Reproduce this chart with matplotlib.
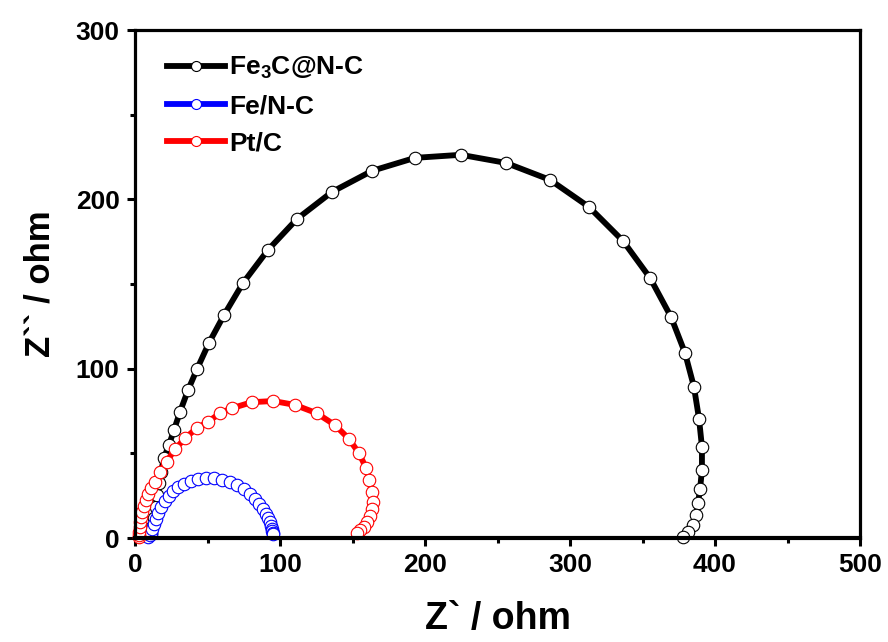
import matplotlib
matplotlib.use("Agg")
import matplotlib.pyplot as plt
from matplotlib.ticker import MultipleLocator

plt.rcParams['font.family'] = ['Liberation Sans', 'DejaVu Sans']
plt.rcParams['font.weight'] = 'bold'
plt.rcParams['mathtext.fontset'] = 'custom'
plt.rcParams['mathtext.rm'] = 'Liberation Sans:bold'
plt.rcParams['mathtext.bf'] = 'Liberation Sans:bold'
plt.rcParams['mathtext.default'] = 'rm'

# Fe3C@N-C
fe3c_x = [10.8, 11.8, 13.0, 14.3, 15.5, 16.6, 17.9, 20.0, 23.4, 26.9, 31.0, 36.6, 42.8, 51.0, 61.4,
          74.5, 91.7, 111.7, 135.9, 163.4, 193.1, 224.8, 255.9, 286.2, 313.1, 336.6,
          355.2, 369.7, 379.3, 385.5, 389.0, 391.0, 391.0, 389.7, 388.3, 386.9, 384.8, 381.4, 377.9]
fe3c_y = [2.5, 6.5, 12.0, 18.5, 25.5, 32.5, 39.0, 47.3, 54.9, 63.8, 74.4, 87.4, 99.8, 115.2, 131.7,
          150.6, 170.1, 188.4, 204.4, 216.8, 224.5, 226.3, 221.5, 211.5, 195.5, 175.4,
          153.6, 130.5, 109.3, 89.2, 70.3, 53.8, 40.2, 28.9, 20.7, 13.6, 7.7, 3.5, 0.6]

# Fe/N-C
fen_x = [9.0, 10.0, 11.0, 12.0, 13.2, 14.6, 16.2, 18.2, 20.5, 23.2, 26.3, 29.8, 33.8, 38.5, 43.7,
         49.2, 54.8, 60.3, 65.6, 70.5, 75.0, 79.0, 82.5, 85.5, 88.0, 90.0, 91.6, 92.8, 93.7,
         94.3, 94.7, 94.9, 95.0]
fen_y = [0.5, 1.5, 3.0, 5.2, 8.0, 11.2, 14.8, 18.2, 21.6, 24.7, 27.5, 29.9, 31.9, 33.6, 34.8,
         35.3, 35.2, 34.4, 33.0, 31.1, 28.7, 26.0, 23.0, 20.0, 17.0, 14.2, 11.6, 9.3, 7.3,
         5.6, 4.2, 3.1, 2.3]

# Pt/C
pt_x = [2.5, 2.6, 2.8, 3.2, 3.7, 4.1, 5.0, 6.2, 7.6, 9.2, 11.0, 13.8, 17.2, 21.8, 27.6, 34.5,
        42.5, 50.5, 58.6, 66.7, 80.5, 95.4, 110.3, 125.3, 137.9, 147.6, 154.5, 159.3, 161.6,
        163.2, 163.9, 163.2, 162.1, 160.2, 157.9, 155.2, 152.9]
pt_y = [0.5, 1.5, 3.7, 6.7, 9.6, 12.6, 15.5, 18.9, 22.4, 25.8, 29.4, 33.3, 39.2, 45.1, 52.4, 58.9,
        64.8, 68.7, 73.7, 76.6, 80.2, 80.9, 78.6, 73.7, 66.7, 58.5, 50.0, 41.5, 34.3,
        27.3, 21.4, 17.0, 13.0, 9.6, 6.7, 4.7, 2.8]

labels = [r'Fe$_3$C@N-C', 'Fe/N-C', 'Pt/C']
colors = ['black', 'blue', 'red']

fig = plt.figure(figsize=(8.88, 6.42), dpi=100)
ax = fig.add_axes([135/888, 1-538/642, (860-135)/888, (538-30)/642])

for xs, ys, lab, c in zip([fe3c_x, fen_x, pt_x], [fe3c_y, fen_y, pt_y], labels, colors):
    ax.plot(xs, ys, '-o', color=c, lw=4.2, ms=9.0, mfc='white', mec=c, mew=0.8,
            label=lab, clip_on=False)

ax.set_xlim(0, 500)
ax.set_ylim(0, 300)
ax.xaxis.set_major_locator(MultipleLocator(100))
ax.xaxis.set_minor_locator(MultipleLocator(50))
ax.yaxis.set_major_locator(MultipleLocator(100))
ax.yaxis.set_minor_locator(MultipleLocator(50))
ax.tick_params(which='major', direction='out', length=6, width=2.2, labelsize=19, pad=5)
ax.tick_params(which='minor', direction='out', length=3.5, width=2.2)
ax.tick_params(top=False, right=False, which='both')
for t in ax.get_xticklabels() + ax.get_yticklabels():
    t.set_fontweight('bold')
for s in ax.spines.values():
    s.set_linewidth(2.3)
ax.spines['bottom'].set_linewidth(3.0)

ax.set_xlabel('Z` / ohm', fontsize=27, fontweight='bold', labelpad=17)
ax.set_ylabel('Z`` / ohm', fontsize=25, fontweight='bold', labelpad=14)

leg = ax.legend(loc='upper left', bbox_to_anchor=(0.03, 0.972), frameon=False, fontsize=19,
                handlelength=2.2, handletextpad=0.15, labelspacing=0.5, numpoints=1,
                borderaxespad=0.0, markerscale=0.8)
for t in leg.get_texts():
    t.set_fontweight('bold')

fig.savefig('out.png', dpi=100)
